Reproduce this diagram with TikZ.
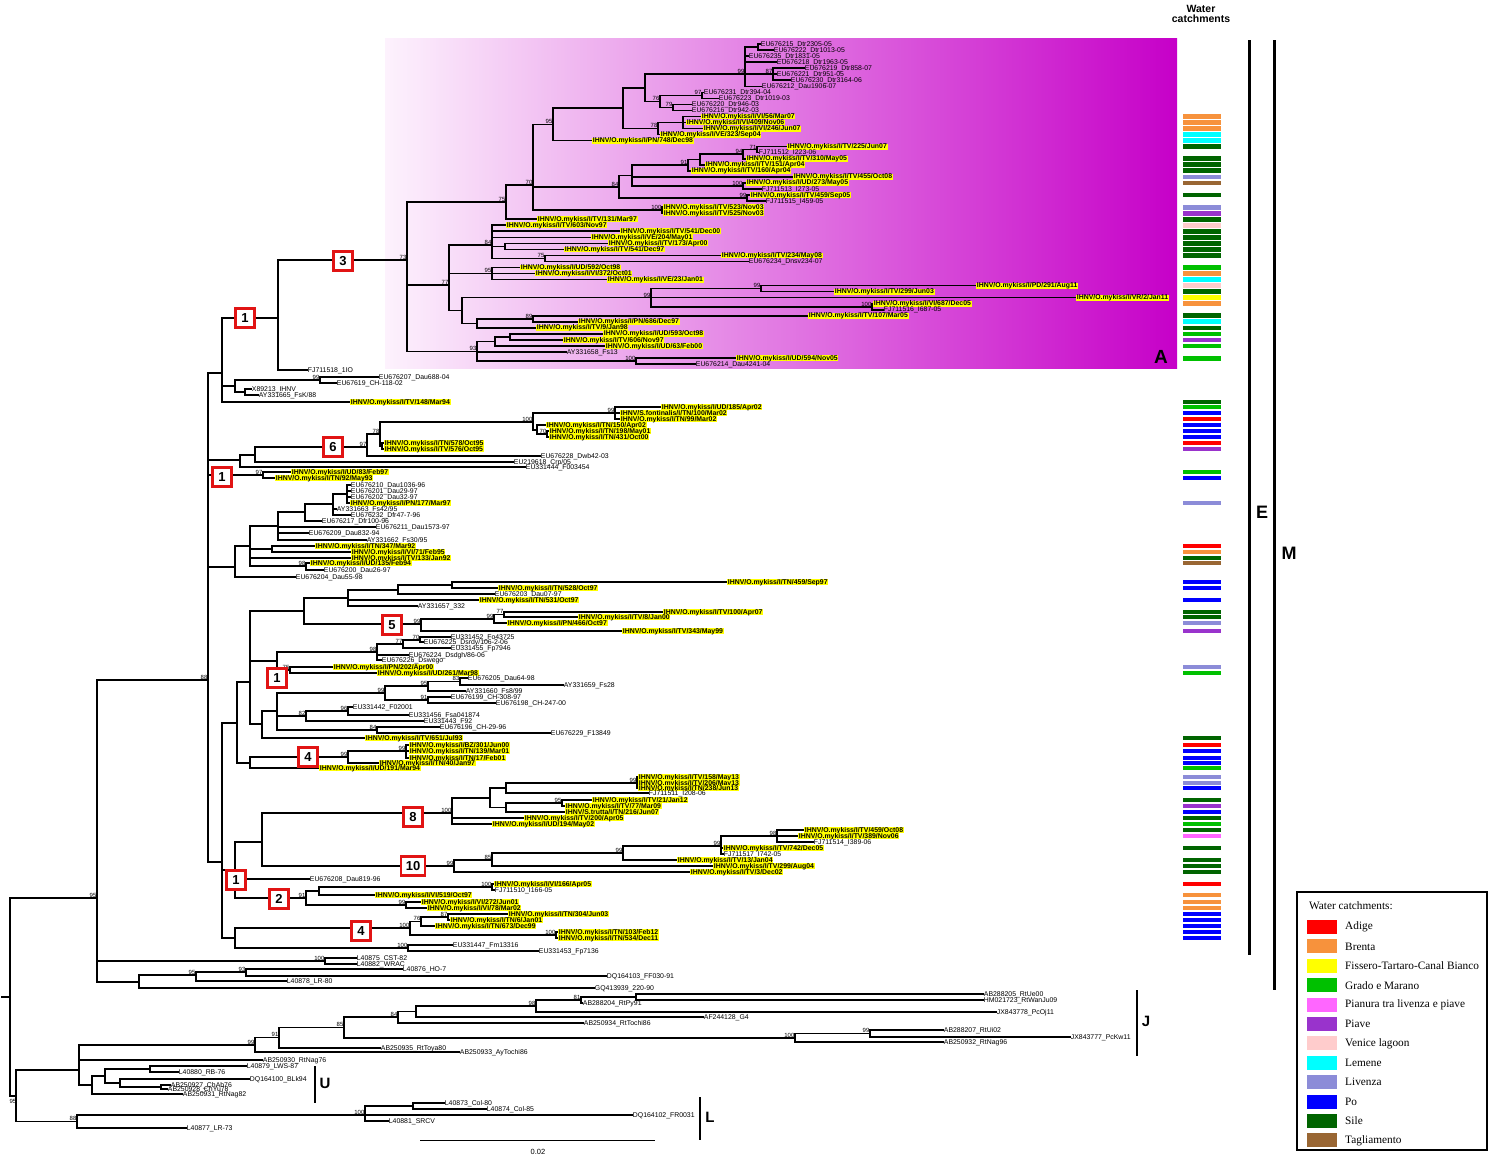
\documentclass[tikz,border=0pt]{standalone}
\usepackage{fontspec}
\setmainfont{Liberation Sans}
\newfontfamily\serf{Liberation Serif}
\definecolor{cAdi}{RGB}{255,0,0}
\definecolor{cBre}{RGB}{247,146,60}
\definecolor{cFis}{RGB}{255,255,0}
\definecolor{cGra}{RGB}{0,192,0}
\definecolor{cPin}{RGB}{255,102,255}
\definecolor{cPia}{RGB}{153,51,204}
\definecolor{cVen}{RGB}{255,204,204}
\definecolor{cLem}{RGB}{0,255,255}
\definecolor{cLiv}{RGB}{140,140,216}
\definecolor{cPo}{RGB}{0,0,255}
\definecolor{cSil}{RGB}{0,100,0}
\definecolor{cTag}{RGB}{153,102,51}
\definecolor{hl}{RGB}{255,255,0}
\definecolor{magL}{RGB}{253,242,253}
\definecolor{magR}{RGB}{198,0,200}
\definecolor{boxred}{RGB}{225,20,20}
\newcommand\om{IHNV/O.mykiss/I/}
\newcommand\nd[5]{\draw[br] (#1,#3) -- (#2,#3) (#2,#4) -- (#2,#5);}
\newcommand\lf[4]{\draw[br] (#1,#3) -- (#2,#3); \node[lab] at (#2,#3) {#4};}
\newcommand\lh[5]{\draw[br] (#1,#3) -- (#2,#3); \node[hlab] at (#2,#3) {#4}; \fill[#5] (1183,#3-2.4) rectangle (1221,#3+2.4);}
\newcommand\bs[3]{\node[bsl] at (#1-0.4,#2-0.4) {#3};}
\newcommand\rb[3]{\node[rbox] at (#1,#2) {#3};}
\begin{document}
\begin{tikzpicture}[x=1pt,y=-1pt,
 br/.style={line width=1.5pt, line cap=rect},
 lab/.style={anchor=west, font=\fontsize{6.9}{7}\selectfont, inner xsep=0.7pt, inner ysep=0pt, text height=4.9pt, text depth=0.9pt},
 hlab/.style={lab, fill=hl, font=\fontsize{6.9}{7}\selectfont\bfseries},
 bsl/.style={anchor=south east, font=\fontsize{6}{6}\selectfont, inner sep=0pt},
 rbox/.style={draw=boxred, line width=2.2pt, fill=white, minimum width=19pt, minimum height=19pt, inner sep=0pt, font=\fontsize{13}{13}\selectfont\bfseries},
 big/.style={font=\fontsize{18}{18}\selectfont\bfseries, inner sep=0pt},
 leg/.style={anchor=west, font=\serf\fontsize{11.3}{12}\selectfont, inner sep=0pt},
]
\useasboundingbox (0,0) rectangle (1489,1157);
\fill[white] (0,0) rectangle (1489,1157);
% clade A background
\shade[left color=magL, right color=magR] (385,38) rectangle (1177,368);
\node[font=\fontsize{19}{19}\selectfont\bfseries, inner sep=0pt] (labA) at (1161,357) {A};

% ===== Clade A =====
\nd{745}{758}{47}{44}{50}
\lf{758}{760}{44}{EU676215\_Dtr2305-05}
\lf{758}{773}{50}{EU676222\_Dtr1013-05}
\lf{745}{748}{56.1}{EU676235\_Dtr1831-05}
\lf{745}{776}{62.1}{EU676218\_Dtr1963-05}
\nd{745}{773}{74.2}{68.2}{80.2}
\lf{773}{804}{68.2}{EU676219\_Dtr858-07}
\lf{773}{776}{74.2}{EU676221\_Dtr951-05}
\lf{773}{790}{80.2}{EU676230\_Dtr3164-06}
\lf{745}{761}{86.3}{EU676212\_Dau1906-07}
\nd{645}{745}{74.2}{47}{86.3}
\bs{745}{74.2}{99}
\bs{773}{74.2}{87}
\nd{660}{702}{95.3}{92.3}{98.4}
\lf{702}{703}{92.3}{EU676231\_Dtr394-04}
\lf{702}{718}{98.4}{EU676223\_Dtr1019-03}
\bs{702}{95.3}{97}
\nd{660}{673}{107.4}{104.4}{110.4}
\lf{673}{691}{104.4}{EU676220\_Dtr946-03}
\lf{673}{691}{110.4}{EU676216\_Dtr942-03}
\bs{673}{107.4}{79}
\nd{645}{660}{101.4}{95.3}{107.4}
\bs{660}{101.4}{76}
\nd{623}{645}{87.8}{74.2}{101.4}
\nd{658}{683}{122.5}{116.5}{128.6}
\lh{683}{701}{116.5}{\om VI/56/Mar07}{cBre}
\lh{683}{686}{122.5}{\om VI/409/Nov06}{cBre}
\lh{683}{703}{128.6}{\om VI/246/Jun07}{cBre}
\lh{658}{660}{134.6}{\om VE/323/Sep04}{cLem}
\nd{623}{658}{128.6}{122.5}{134.6}
\bs{658}{128.6}{78}
\nd{553}{623}{108.2}{87.8}{128.6}
\lh{553}{592}{140.6}{\om PN/748/Dec98}{cLem}
\nd{533}{553}{124.4}{108.2}{140.6}
\bs{553}{124.4}{95}
\nd{743}{757}{149.7}{146.7}{152.7}
\lh{757}{787}{146.7}{\om TV/225/Jun07}{cSil}
\lf{757}{758}{152.7}{FJ711512\_I223-06}
\bs{757}{149.7}{71}
\nd{700}{743}{154.2}{149.7}{158.8}
\lh{743}{746}{158.8}{\om TV/310/May05}{cSil}
\bs{743}{154.2}{94}
\nd{688}{700}{159.5}{154.2}{164.8}
\lh{700}{705}{164.8}{\om TV/151/Apr04}{cSil}
\nd{632}{688}{165.2}{159.5}{170.8}
\lh{688}{691}{170.8}{\om TV/160/Apr04}{cSil}
\bs{688}{165.2}{91}
\lh{632}{793}{176.9}{\om TV/455/Oct08}{cLiv}
\nd{632}{743}{186}{182.9}{189}
\lh{743}{746}{182.9}{\om UD/273/May05}{cTag}
\lf{743}{761}{189}{FJ711513\_I273-05}
\bs{743}{186}{100}
\nd{619}{632}{175.6}{165.2}{186}
\nd{619}{747}{198}{195}{201}
\lh{747}{750}{195}{\om TV/459/Sep05}{cSil}
\lf{747}{765}{201}{FJ711515\_I459-05}
\bs{747}{198}{99}
\nd{533}{619}{186.8}{175.6}{198}
\bs{619}{186.8}{84}
\nd{533}{662}{210.1}{207.1}{213.1}
\lh{662}{663}{207.1}{\om TV/523/Nov03}{cLiv}
\lh{662}{663}{213.1}{\om TV/525/Nov03}{cPia}
\bs{662}{210.1}{100}
\nd{506}{533}{185}{124.4}{210.1}
\bs{533}{185}{70}
\lh{506}{537}{219.2}{\om TV/131/Mar97}{cSil}
\nd{407}{506}{202}{185}{219.2}
\bs{506}{202}{75}
\lh{492}{506}{225.2}{\om TV/603/Nov97}{cVen}
\lh{492}{620}{231.2}{\om TV/541/Dec00}{cSil}
\lh{492}{591}{237.3}{\om VE/204/May01}{cSil}
\nd{492}{505}{246.4}{243.3}{249.4}
\lh{505}{608}{243.3}{\om TV/173/Apr00}{cSil}
\lh{505}{564}{249.4}{\om TV/541/Dec97}{cSil}
\nd{492}{545}{258.4}{255.4}{261.4}
\lh{545}{721}{255.4}{\om TV/234/May08}{cSil}
\lf{545}{748}{261.4}{EU676234\_Dnsv234-07}
\bs{545}{258.4}{75}
\nd{449}{492}{245}{225.2}{258.4}
\bs{492}{245}{84}
\nd{449}{492}{273.5}{267.5}{279.6}
\lh{492}{520}{267.5}{\om UD/592/Oct98}{cGra}
\lh{492}{535}{273.5}{\om VI/372/Oct01}{cBre}
\lh{492}{607}{279.6}{\om VE/23/Jan01}{cLem}
\bs{492}{273.5}{95}
\nd{651}{761}{288.6}{285.6}{291.6}
\lh{761}{976}{285.6}{\om PD/291/Aug11}{cVen}
\lh{761}{834}{291.6}{\om TV/299/Jun03}{cSil}
\bs{761}{288.6}{99}
\lh{651}{1076}{297.7}{\om VR/2/Jan11}{cFis}
\nd{651}{872}{306.8}{303.7}{309.8}
\lh{872}{873}{303.7}{\om VI/687/Dec05}{cBre}
\lf{872}{883}{309.8}{FJ711516\_I687-05}
\bs{872}{306.8}{100}
\nd{462}{651}{297.7}{288.6}{306.8}
\bs{651}{297.7}{99}
\nd{477}{533}{318.8}{315.8}{321.8}
\lh{533}{808}{315.8}{\om TV/107/Mar05}{cSil}
\lh{533}{578}{321.8}{\om PN/686/Dec97}{cLem}
\bs{533}{318.8}{89}
\nd{462}{477}{323.3}{318.8}{327.9}
\lh{477}{536}{327.9}{\om TV/9/Jan98}{cSil}
\nd{449}{462}{310.5}{297.7}{323.3}
\nd{407}{449}{285}{245}{310.5}
\bs{449}{285}{77}
\nd{495}{510}{337}{333.9}{340}
\lh{510}{603}{333.9}{\om UD/593/Oct98}{cGra}
\lh{510}{563}{340}{\om TV/606/Nov97}{cPia}
\nd{477}{495}{341.5}{337}{346}
\lh{495}{605}{346}{\om UD/63/Feb00}{cGra}
\lf{477}{566}{352}{AY331658\_Fs13}
\nd{477}{636}{361.1}{358.1}{364.1}
\lh{636}{736}{358.1}{\om UD/594/Nov05}{cGra}
\lf{636}{695}{364.1}{EU676214\_Dau4241-04}
\bs{636}{361.1}{100}
\nd{407}{477}{351.3}{341.5}{361.1}
\bs{477}{351.3}{93}
\nd{278}{407}{260}{202}{351.3}
\bs{407}{260}{73}

% ===== upper E =====
\lf{278}{307}{370}{FJ711518\_1IO}
\nd{222}{278}{318}{260}{370}
\nd{235}{320}{380}{377}{383}
\lf{320}{378}{377}{EU676207\_Dau688-04}
\lf{320}{336}{383}{EU67619\_CH-118-02}
\bs{320}{380}{99}
\nd{235}{245}{392}{389}{395}
\lf{245}{251}{389}{X89213\_IHNV}
\lf{245}{258}{395}{AY331665\_FsK/88}
\nd{222}{235}{386}{380}{392}
\lh{222}{350}{402}{\om TV/148/Mar94}{cSil}
\nd{208}{222}{373}{318}{402}
% group 6
\nd{533}{615}{413}{407}{419}
\lh{615}{661}{407}{\om UD/185/Apr02}{cGra}
\lh{615}{620}{413}{IHNV/S.fontinalis/I/TN/100/Mar02}{cPo}
\lh{615}{620}{419}{\om TN/99/Mar02}{cAdi}
\bs{615}{413}{99}
\lh{537}{546}{425}{\om TN/150/Apr02}{cPo}
\nd{537}{547}{434}{431}{437}
\lh{547}{549}{431}{\om TN/198/May01}{cPo}
\lh{547}{549}{437}{\om TN/431/Oct00}{cPo}
\bs{547}{434}{70}
\nd{533}{537}{430}{425}{434}
\nd{380}{533}{422}{413}{430}
\bs{533}{422}{100}
\nd{380}{382}{446}{443}{449}
\lh{382}{384}{443}{\om TN/578/Oct95}{cAdi}
\lh{382}{384}{449}{\om TV/576/Oct95}{cPia}
\nd{367}{380}{434}{422}{446}
\bs{380}{434}{78}
\lf{367}{540}{456}{EU676228\_Dwb42-03}
\nd{255}{367}{447}{434}{456}
\bs{367}{447}{97}
\lf{255}{513}{462}{EU219618\_Crp/05}
\nd{240}{255}{455}{447}{462}
\lf{240}{525}{467}{EU331444\_F003454}
\nd{208}{240}{460}{455}{467}
% UD/83
\nd{208}{263}{475}{472}{478}
\lh{263}{291}{472}{\om UD/83/Feb97}{cGra}
\lh{263}{275}{478}{\om TN/92/May93}{cPo}
\bs{263}{475}{97}
% EU676210 group
\nd{333}{347}{494}{485}{503}
\lf{347}{350}{485}{EU676210\_Dau1036-96}
\lf{347}{350}{491}{EU676201\_Dau29-97}
\lf{347}{350}{497}{EU676202\_Dau32-97}
\lh{347}{350}{503}{\om PN/177/Mar97}{cLiv}
\nd{305}{333}{504}{494}{515}
\lf{333}{336}{509}{AY331663\_Fs42/95}
\lf{333}{350}{515}{EU676232\_Dfr47-7-96}
\nd{278}{305}{512}{504}{521}
\lf{305}{321}{521}{EU676217\_Dfr100-96}
\lf{278}{375}{527}{EU676211\_Dau1573-97}
\lf{278}{308}{533}{EU676209\_Dau832-94}
\lf{278}{366}{540}{AY331662\_Fs30/95}
\nd{250}{278}{526}{512}{540}
\nd{250}{272}{549}{546}{552}
\lh{272}{315}{546}{\om TN/347/Mar92}{cAdi}
\lh{272}{351}{552}{\om VI/71/Feb95}{cBre}
\lh{250}{351}{558}{\om TV/133/Jan92}{cSil}
\nd{250}{306}{566}{563}{570}
\lh{306}{310}{563}{\om UD/135/Feb94}{cTag}
\lf{306}{323}{570}{EU676200\_Dau26-97}
\bs{306}{566}{98}
\nd{235}{250}{546}{526}{566}
\lf{235}{295}{577}{EU676204\_Dau55-98}
\nd{208}{235}{567}{546}{577}

% ===== lower E =====
\nd{398}{452}{585}{582}{588}
\lh{452}{727}{582}{\om TN/459/Sep97}{cPo}
\lh{452}{498}{588}{\om TN/528/Oct97}{cPo}
\nd{348}{398}{590}{585}{594}
\lf{398}{494}{594}{EU676203\_Dau07-97}
\nd{304}{348}{598}{590}{606}
\lh{348}{479}{600}{\om TN/531/Oct97}{cPo}
\lf{348}{417}{606}{AY331657\_332}
\nd{494}{504}{614.5}{612}{617}
\lh{504}{663}{612}{\om TV/100/Apr07}{cSil}
\lh{504}{578}{617}{\om TV/8/Jan00}{cSil}
\bs{504}{614.5}{77}
\nd{421}{494}{619}{614.5}{623}
\lh{494}{507}{623}{\om PN/466/Oct97}{cLiv}
\bs{494}{619}{99}
\lh{421}{622}{631}{\om TV/343/May99}{cPia}
\nd{304}{421}{624}{619}{631}
\bs{421}{624}{99}
\nd{250}{304}{611}{598}{624}
\nd{403}{420}{640}{637}{642}
\lf{420}{450}{637}{EU331452\_Fo43725}
\lf{420}{423}{642}{EU676225\_Dsrdy/106-2-06}
\bs{420}{640}{70}
\nd{377}{403}{644}{640}{648}
\lf{403}{450}{648}{EU331455\_Fp7946}
\bs{403}{644}{77}
\nd{277}{377}{652}{644}{660}
\lf{377}{408}{655}{EU676224\_Dsdgh/86-06}
\lf{377}{381}{660}{EU676226\_Dswego}
\bs{377}{652}{98}
\nd{277}{290}{670}{667}{673}
\lh{290}{333}{667}{\om PN/202/Apr00}{cLiv}
\lh{290}{377}{673}{\om UD/261/Mar98}{cGra}
\bs{290}{670}{75}
\nd{250}{277}{661}{652}{670}
\nd{428}{460}{681.5}{678}{685}
\lf{460}{467}{678}{EU676205\_Dau64-98}
\lf{460}{563}{685}{AY331659\_Fs28}
\bs{460}{681.5}{83}
\nd{385}{428}{686}{681.5}{691}
\lf{428}{465}{691}{AY331660\_Fs8/99}
\bs{428}{686}{95}
\nd{385}{428}{700}{697}{703}
\lf{428}{450}{697}{EU676199\_CH-308-97}
\lf{428}{495}{703}{EU676198\_CH-247-00}
\bs{428}{700}{91}
\nd{277}{385}{693}{686}{700}
\bs{385}{693}{99}
\nd{306}{348}{711}{707}{715}
\lf{348}{352}{707}{EU331442\_F02001}
\lf{348}{408}{715}{EU331456\_Fsa041874}
\bs{348}{711}{96}
\nd{277}{306}{716}{711}{721}
\lf{306}{423}{721}{EU331443\_F92}
\bs{306}{716}{82}
\nd{277}{377}{730}{727}{733}
\lf{377}{439}{727}{EU676196\_CH-29-96}
\lf{377}{550}{733}{EU676229\_F13849}
\bs{377}{730}{84}
\nd{262}{277}{711}{693}{730}
\lh{262}{365}{738}{\om TV/651/Jul93}{cSil}
\nd{250}{262}{724}{711}{738}
\nd{237}{250}{682}{611}{724}
\nd{348}{406}{751}{745}{758}
\lh{406}{409}{745}{\om BZ/301/Jun00}{cAdi}
\lh{406}{409}{751}{\om TN/139/Mar01}{cPo}
\lh{406}{409}{758}{\om TN/17/Feb01}{cPo}
\bs{406}{751}{99}
\nd{250}{348}{757}{751}{763}
\lh{348}{379}{763}{\om TN/40/Jan97}{cPo}
\bs{348}{757}{99}
\lh{250}{319}{768}{\om UD/191/Mar94}{cGra}
\nd{237}{250}{763}{757}{768}
\nd{222}{237}{723}{682}{763}
% group 8
\nd{490}{506}{788}{783}{793}
\nd{506}{637}{783}{777}{788}
\lh{637}{638}{777}{\om TV/158/May13}{cLiv}
\lh{637}{638}{783}{\om TV/206/May13}{cLiv}
\lh{637}{638}{788}{\om TN/238/Jun13}{cPo}
\bs{637}{783}{99}
\lf{506}{648}{793}{FJ711511\_I208-06}
\nd{506}{562}{803}{800}{806}
\lh{562}{592}{800}{\om TV/21/Jan12}{cSil}
\lh{562}{565}{806}{\om TV/77/Mar09}{cPia}
\bs{562}{803}{95}
\lh{506}{565}{812}{IHNV/S.trutta/I/TN/216/Jun07}{cPo}
\nd{490}{506}{807.5}{803}{812}
\nd{452}{490}{798}{788}{807.5}
\lh{452}{524}{818}{\om TV/200/Apr05}{cSil}
\lh{452}{492}{824}{\om UD/194/May02}{cGra}
\nd{262}{452}{813}{798}{824}
\bs{452}{813}{100}
% group 10
\nd{721}{777}{836}{830}{842}
\lh{777}{804}{830}{\om TV/459/Oct08}{cSil}
\lh{777}{798}{836}{\om TV/389/Nov06}{cPin}
\lf{777}{813}{842}{FJ711514\_I389-06}
\bs{777}{836}{98}
\lh{721}{723}{848}{\om TV/742/Dec05}{cSil}
\lf{721}{723}{854}{FJ711517\_I742-05}
\nd{623}{721}{846}{836}{854}
\bs{721}{846}{99}
\lh{623}{677}{860}{\om TV/13/Jan04}{cSil}
\nd{492}{623}{853}{846}{860}
\bs{623}{853}{99}
\lh{492}{713}{866}{\om TV/299/Aug04}{cSil}
\nd{454}{492}{860}{853}{866}
\bs{492}{860}{85}
\lh{454}{690}{872}{\om TV/3/Dec02}{cSil}
\nd{262}{454}{866}{860}{872}
\bs{454}{866}{99}
\nd{235}{262}{842}{813}{866}
\lf{235}{309}{879}{EU676208\_Dau819-96}
% group 2
\nd{319}{492}{887}{884}{890}
\lh{492}{494}{884}{\om VI/166/Apr05}{cAdi}
\lf{492}{494}{890}{FJ711510\_I166-05}
\bs{492}{887}{100}
\lh{319}{375}{895}{\om VI/519/Oct97}{cBre}
\nd{306}{319}{891}{887}{895}
\nd{306}{406}{905}{902}{908}
\lh{406}{421}{902}{\om VI/272/Jun01}{cBre}
\lh{406}{427}{908}{\om VI/78/Mar02}{cBre}
\bs{406}{905}{99}
\nd{235}{306}{898}{891}{905}
\bs{306}{898}{91}
\nd{222}{235}{870}{842}{898}
% group 4 lower
\nd{421}{448}{917}{914}{920}
\lh{448}{508}{914}{\om TN/304/Jun03}{cPo}
\lh{448}{450}{920}{\om TN/6/Jan01}{cPo}
\bs{448}{917}{87}
\lh{421}{435}{926}{\om TN/673/Dec99}{cPo}
\nd{410}{421}{921.5}{917}{926}
\bs{421}{921.5}{76}
\nd{410}{556}{935}{932}{938}
\lh{556}{558}{932}{\om TN/103/Feb12}{cPo}
\lh{556}{558}{938}{\om TN/534/Dec11}{cPo}
\bs{556}{935}{100}
\nd{235}{410}{928}{921.5}{935}
\bs{410}{928}{100}
\nd{235}{408}{948}{945}{951}
\lf{408}{452}{945}{EU331447\_Fm13316}
\lf{408}{538}{951}{EU331453\_Fp7136}
\bs{408}{948}{100}
\nd{222}{235}{938}{928}{948}
\nd{208}{222}{862}{723}{938}
% E backbone
\nd{97}{208}{680}{373}{862}
\bs{208}{680}{88}

% ===== rest of M =====
\begin{scope}[br/.style={line width=1.1pt, line cap=rect}]
\nd{97}{325}{961}{958}{964}
\lf{325}{356}{958}{L40875\_CST-82}
\lf{325}{356}{964}{L40882\_WRAC}
\bs{325}{961}{100}
\nd{196}{246}{972}{969}{976}
\lf{246}{402}{969}{L40876\_HO-7}
\lf{246}{606}{976}{DQ164103\_FF030-91}
\bs{246}{972}{93}
\nd{139}{196}{975}{972}{981}
\lf{196}{286}{981}{L40878\_LR-80}
\bs{196}{975}{95}
\nd{97}{139}{982}{975}{988}
\lf{139}{594}{988}{GQ413939\_220-90}
\nd{10}{97}{898}{680}{982}
\bs{97}{898}{95}
% root
\draw[br] (2,997) -- (10,997) (10,898) -- (10,1096);
\nd{10}{16}{1096}{1070}{1121.5}
\node[bsl, anchor=north] at (13,1099) {95};
% J
\nd{581}{636}{997}{994}{1000}
\lf{636}{983}{994}{AB288205\_RtUe00}
\lf{636}{983}{1000}{HM021723\_RtWanJu09}
\nd{536}{581}{1000}{997}{1003}
\lf{581}{582}{1003}{AB288204\_RtPy91}
\bs{581}{1000}{81}
\nd{416}{536}{1006}{1000}{1012}
\lf{536}{996}{1012}{JX843778\_PcOj11}
\bs{536}{1006}{98}
\nd{398}{416}{1011.5}{1006}{1017}
\lf{416}{703}{1017}{AF244128\_G4}
\nd{344}{398}{1017}{1011.5}{1023}
\lf{398}{583}{1023}{AB250934\_RtTochi86}
\bs{398}{1017}{84}
\nd{795}{870}{1033.5}{1030}{1037}
\lf{870}{943}{1030}{AB288207\_RtUi02}
\lf{870}{1070}{1037}{JX843777\_PcKw11}
\bs{870}{1033.5}{99}
\nd{344}{795}{1038}{1033.5}{1042}
\lf{795}{943}{1042}{AB250932\_RtNag96}
\bs{795}{1038}{100}
\nd{279}{344}{1027.5}{1017}{1038}
\bs{344}{1027.5}{85}
\lf{279}{380}{1048}{AB250935\_RtToya80}
\nd{255}{279}{1037.5}{1027.5}{1048}
\bs{279}{1037.5}{91}
\lf{255}{459}{1052}{AB250933\_AyTochi86}
\nd{79}{255}{1045}{1037.5}{1052}
\bs{255}{1045}{99}
\lf{79}{262}{1060}{AB250930\_RtNag76}
% U
\nd{105}{150}{1069}{1066}{1072}
\lf{150}{246}{1066}{L40879\_LWS-87}
\lf{150}{178}{1072}{L40880\_RB-76}
\nd{120}{161}{1087}{1085}{1089}
\lf{161}{170}{1085}{AB250927\_ChAb76}
\lf{161}{167}{1089}{AB250928\_ChYu78}
\nd{105}{120}{1083}{1079}{1087}
\lf{120}{249}{1079}{DQ164100\_BLk94}
\nd{92}{105}{1076}{1069}{1083}
\lf{92}{182}{1094}{AB250931\_RtNag82}
\nd{79}{92}{1085}{1076}{1094}
\nd{16}{79}{1070}{1045}{1085}
% L
\nd{365}{413}{1106}{1103}{1109}
\lf{413}{444}{1103}{L40873\_Col-80}
\lf{413}{486}{1109}{L40874\_Col-85}
\nd{77}{365}{1115}{1106}{1121}
\lf{365}{632}{1115}{DQ164102\_FR0031}
\lf{365}{388}{1121}{L40881\_SRCV}
\bs{365}{1115}{100}
\lf{77}{186}{1128}{L40877\_LR-73}
\nd{16}{77}{1121.5}{1115}{1128}
\bs{77}{1121.5}{88}
\end{scope}

% ===== red boxes =====
\rb{343}{261}{3}
\rb{245}{318}{1}
\rb{333}{447}{6}
\rb{222}{477}{1}
\rb{392}{625}{5}
\rb{277}{678}{1}
\rb{308}{757}{4}
\rb{413}{817}{8}
\node[rbox, minimum width=24pt] at (413,866) {10};
\rb{236}{880}{1}
\rb{279}{899}{2}
\rb{361}{931}{4}

% ===== clade bars =====
\draw[line width=3pt] (1249,40) -- (1249,955);
\draw[line width=3pt] (1274,40) -- (1274,990);
\node[big] at (1262,512) {E};
\node[big] at (1289,553) {M};
\draw[line width=2pt] (1137,990) -- (1137,1056);
\node[font=\fontsize{15}{15}\selectfont\bfseries, inner sep=0pt] at (1146,1021) {J};
\draw[line width=2pt] (315,1066) -- (315,1103);
\node[font=\fontsize{15}{15}\selectfont\bfseries, inner sep=0pt] at (325,1083) {U};
\draw[line width=2pt] (700,1097) -- (700,1140);
\node[font=\fontsize{15}{15}\selectfont\bfseries, inner sep=0pt] at (710,1117) {L};
\node[font=\fontsize{10.5}{11}\selectfont\bfseries, align=center, inner sep=0pt] at (1201,14) {Water\\[-1pt]catchments};

% scale bar
\draw[line width=1pt] (420,1140) -- (655,1140);
\node[font=\fontsize{7.5}{8}\selectfont, inner sep=0pt] at (538,1152) {0.02};

% ===== legend =====
\draw[line width=1.3pt] (1297,892) rectangle (1487,1150);
\node[leg] at (1309,906) {Water catchments:};
\foreach \c/\t [count=\i from 0] in {cAdi/Adige, cBre/Brenta, cFis/Fissero-Tartaro-Canal Bianco, cGra/Grado e Marano, cPin/Pianura tra livenza e piave, cPia/Piave, cVen/Venice lagoon, cLem/Lemene, cLiv/Livenza, cPo/Po, cSil/Sile, cTag/Tagliamento}{
  \fill[\c] (1307,927+19.4*\i-7) rectangle (1337,927+19.4*\i+7);
  \node[leg] at (1345,927+19.4*\i) {\t};
}
\end{tikzpicture}
\end{document}
